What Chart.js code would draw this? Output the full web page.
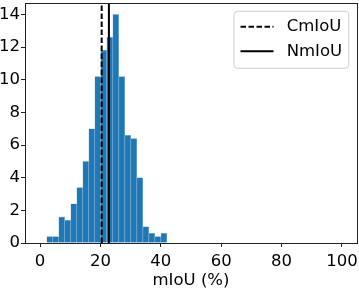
<!DOCTYPE html>
<html>
<head>
<meta charset="utf-8">
<script src="https://cdn.jsdelivr.net/npm/chart.js@4"></script>
<style>
  body { margin: 0; background: #fff; }
  #wrap { width: 359px; height: 296px; }
</style>
</head>
<body>
<div id="wrap"><canvas id="chart" width="359" height="296"></canvas></div>
<script>
// --- Data ---
let binEdges = [2.2, 4.19, 6.18, 8.17, 10.16, 12.15, 14.14, 16.13, 18.12, 20.11, 22.1,
                24.09, 26.08, 28.07, 30.06, 32.05, 34.04, 36.03, 38.02, 40.01, 42.0];
let binPercent = [0.4, 0.4, 1.6, 1.4, 2.4, 3.4, 5.0, 7.0, 10.2, 11.8,
                  12.6, 14.0, 10.2, 6.6, 6.4, 4.0, 1.0, 0.6, 0.4, 0.6];
let cmiou = 20.4;
let nmiou = 22.8;
let xTicks = [0, 20, 40, 60, 80, 100];
let yTicks = [0, 2, 4, 6, 8, 10, 12, 14];
let xLimits = [-5, 105];
let yLimits = [0, 14.7];

const FONT = 'DejaVu Sans';
const fontSpec = {family: FONT, size: 16.5};

let histData = binPercent.map((v, i) => ({x: (binEdges[i] + binEdges[i + 1]) / 2, y: v}));

// matplotlib-like legend in the upper right corner of the axes
const mplLegend = {
    id: 'mplLegend',
    afterDatasetsDraw(chart) {
        const ctx = chart.ctx;
        const area = chart.chartArea;
        const fs = 16.5;
        const items = chart.data.datasets.filter(d => d.legendLabel);
        ctx.save();
        ctx.font = fs + 'px "' + FONT + '"';
        let textW = Math.max(...items.map(d => ctx.measureText(d.legendLabel).width));
        let handleLen = 2 * fs, pad = 0.4 * fs, gap = 0.8 * fs, rowH = 24.4;
        let boxW = pad * 2 + handleLen + gap + textW;
        let boxH = pad * 2 + rowH * items.length - 5;
        let right = area.right - 0.5 * fs;
        let top = area.top + 0.5 * fs;
        let left = right - boxW;
        ctx.beginPath();
        ctx.roundRect(left, top, boxW, boxH, 3.5);
        ctx.fillStyle = 'rgba(255,255,255,0.8)';
        ctx.fill();
        ctx.strokeStyle = '#cccccc';
        ctx.lineWidth = 1;
        ctx.stroke();
        items.forEach((d, i) => {
            let cy = top + pad + 9 + i * rowH;
            ctx.beginPath();
            ctx.setLineDash(d.borderDash || []);
            ctx.lineWidth = d.borderWidth;
            ctx.strokeStyle = d.borderColor;
            ctx.moveTo(left + pad, cy);
            ctx.lineTo(left + pad + handleLen, cy);
            ctx.stroke();
            ctx.setLineDash([]);
            ctx.fillStyle = '#000';
            ctx.textBaseline = 'middle';
            ctx.fillText(d.legendLabel, left + pad + handleLen + gap, cy);
        });
        ctx.restore();
    }
};

// axes frame (all four spines)
const frame = {
    id: 'frame',
    afterDraw(chart) {
        const {ctx, chartArea: a} = chart;
        ctx.save();
        ctx.strokeStyle = '#222';
        ctx.lineWidth = 1;
        ctx.strokeRect(Math.round(a.left) + 0.5, Math.round(a.top) + 0.5,
                       Math.round(a.right - a.left), Math.round(a.bottom - a.top));
        ctx.restore();
    }
};

new Chart(document.getElementById('chart'), {
    type: 'bar',
    data: {
        datasets: [
            {
                type: 'line',
                legendLabel: 'CmIoU',
                data: [{x: cmiou, y: yLimits[0]}, {x: cmiou, y: yLimits[1]}],
                borderColor: '#000',
                borderWidth: 2,
                borderDash: [5.5, 2.5],
                pointRadius: 0,
                order: 0
            },
            {
                type: 'line',
                legendLabel: 'NmIoU',
                data: [{x: nmiou, y: yLimits[0]}, {x: nmiou, y: yLimits[1]}],
                borderColor: '#000',
                borderWidth: 2,
                pointRadius: 0,
                order: 0
            },
            {
                data: histData,
                backgroundColor: '#1f77b4',
                borderColor: 'rgba(120,175,220,0.7)',
                borderWidth: 0.6,
                barPercentage: 1,
                categoryPercentage: 1,
                order: 1
            }
        ]
    },
    plugins: [mplLegend, frame],
    options: {
        responsive: false,
        animation: false,
        layout: {padding: {left: 0, right: 2, top: 3, bottom: 0}},
        plugins: {legend: {display: false}, tooltip: {enabled: false}},
        scales: {
            x: {
                type: 'linear',
                offset: false,
                min: xLimits[0],
                max: xLimits[1],
                afterBuildTicks: s => { s.ticks = xTicks.map(v => ({value: v})); },
                afterFit: s => { s.height = 53; s.paddingLeft = 0; s.paddingRight = 0; },
                grid: {offset: false, drawOnChartArea: false, tickLength: 4, color: '#222'},
                border: {color: '#222'},
                ticks: {font: fontSpec, color: '#000', padding: 5, maxRotation: 0},
                title: {display: true, text: 'mIoU (%)', font: fontSpec, color: '#000',
                        padding: {top: 0, bottom: 5}}
            },
            y: {
                min: yLimits[0],
                max: yLimits[1],
                afterBuildTicks: s => { s.ticks = yTicks.map(v => ({value: v})); },
                afterFit: s => { s.width = 25; s.paddingTop = 0; s.paddingBottom = 0; },
                grid: {drawOnChartArea: false, tickLength: 4, color: '#222'},
                border: {color: '#222'},
                ticks: {font: fontSpec, color: '#000', padding: 1}
            }
        }
    }
});
</script>
</body>
</html>
